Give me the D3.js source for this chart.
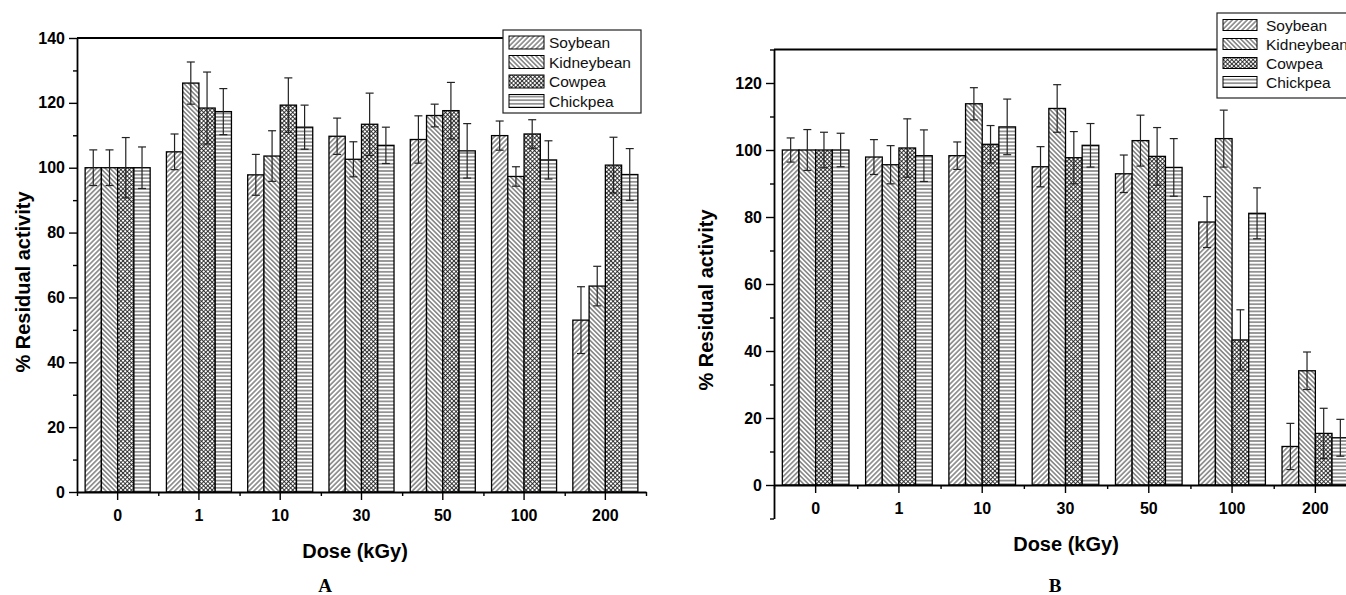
<!DOCTYPE html>
<html>
<head>
<meta charset="utf-8">
<script src="https://cdn.jsdelivr.net/npm/d3@7"></script>
<style>
  body { margin: 0; background: #fff; }
  svg { display: block; }
</style>
</head>
<body>
<svg width="1346" height="595"></svg>
<script>
// DATA
const doses = ["0", "1", "10", "30", "50", "100", "200"];
const seriesNames = ["Soybean", "Kidneybean", "Cowpea", "Chickpea"];

// panel A
const soybeanA = [100, 104.9, 97.8, 109.7, 108.7, 109.9, 53];
const soybeanAErr = [5.5, 5.5, 6.3, 5.6, 7.3, 4.5, 10.3];
const kidneybeanA = [100, 126.1, 103.6, 102.6, 116.1, 97.3, 63.5];
const kidneybeanAErr = [5.5, 6.5, 7.8, 5.4, 3.5, 3, 6.1];
const cowpeaA = [100, 118.4, 119.3, 113.4, 117.6, 110.4, 100.8];
const cowpeaAErr = [9.3, 11.1, 8.4, 9.6, 8.7, 4.4, 8.6];
const chickpeaA = [100, 117.3, 112.5, 106.9, 105.2, 102.4, 97.9];
const chickpeaAErr = [6.4, 7.1, 6.8, 5.6, 8.4, 5.9, 8];

// panel B
const soybeanB = [100, 97.9, 98.3, 95, 92.9, 78.5, 11.5];
const soybeanBErr = [3.6, 5.2, 4.1, 6, 5.6, 7.6, 6.9];
const kidneybeanB = [100, 95.6, 113.8, 112.4, 102.8, 103.4, 34.1];
const kidneybeanBErr = [6.1, 5.7, 4.8, 7.1, 7.6, 8.5, 5.6];
const cowpeaB = [100, 100.6, 101.7, 97.7, 98.1, 43.3, 15.4];
const cowpeaBErr = [5.3, 8.7, 5.6, 7.8, 8.6, 9, 7.5];
const chickpeaB = [100, 98.3, 106.9, 101.4, 94.8, 81.1, 14.1];
const chickpeaBErr = [5, 7.7, 8.3, 6.5, 8.6, 7.6, 5.5];

const yMajorA = [0, 20, 40, 60, 80, 100, 120, 140];
const yMinorA = [10, 30, 50, 70, 90, 110, 130];
const yMajorB = [0, 20, 40, 60, 80, 100, 120];
const yMinorB = [-10, 10, 30, 50, 70, 90, 110, 130];

const svg = d3.select("svg");
const sans = "'Liberation Sans', Arial, sans-serif";

// PATTERNS
const defs = svg.append("defs");
const patternIds = ["p-soy", "p-kid", "p-cow", "p-chk"];

function linePattern(id, size, angle, cross) {
  const p = defs.append("pattern")
    .attr("id", id)
    .attr("patternUnits", "userSpaceOnUse")
    .attr("width", size)
    .attr("height", size)
    .attr("patternTransform", `rotate(${angle})`);
  p.append("rect").attr("width", size).attr("height", size).attr("fill", "#fff");
  p.append("line")
    .attr("x1", size / 2).attr("x2", size / 2)
    .attr("y1", 0).attr("y2", size)
    .attr("stroke", "#1a1a1a").attr("stroke-width", 0.85);
  if (cross) {
    p.append("line")
      .attr("x1", 0).attr("x2", size)
      .attr("y1", size / 2).attr("y2", size / 2)
      .attr("stroke", "#1a1a1a").attr("stroke-width", 0.85);
  }
}
linePattern("p-soy", 3.5, 45, false);
linePattern("p-kid", 3.3, -45, false);
linePattern("p-cow", 3.0, 45, true);
linePattern("p-chk", 3.6, 90, false);

function drawPanel(cfg) {
  const g = svg.append("g");

  const x = d3.scaleBand()
    .domain(doses)
    .range([cfg.x0, cfg.x1])
    .paddingInner(0.2)
    .paddingOuter(0.1);
  const xs = d3.scaleBand()
    .domain(seriesNames)
    .range([0, x.bandwidth()]);
  const xl = d3.scaleLinear().domain([0, doses.length]).range([cfg.x0, cfg.x1]);
  const y = d3.scaleLinear().domain(cfg.yDomain).range([cfg.yBottom, cfg.yTop]);

  // BARS
  cfg.values.forEach((vals, si) => {
    const s = seriesNames[si];
    const errs = cfg.errors[si];
    const rows = doses.map((d, i) => ({ dose: d, v: vals[i], e: errs[i] }));

    g.selectAll(null)
      .data(rows)
      .enter()
      .append("rect")
      .attr("x", d => x(d.dose) + xs(s))
      .attr("y", d => y(d.v))
      .attr("width", xs.bandwidth())
      .attr("height", d => y(0) - y(d.v))
      .attr("fill", `url(#${patternIds[si]})`)
      .attr("stroke", "#000")
      .attr("stroke-width", 1.3);

    // ERROR BARS
    const eb = g.selectAll(null)
      .data(rows)
      .enter()
      .append("g")
      .attr("transform", d => `translate(${x(d.dose) + xs(s) + xs.bandwidth() / 2},0)`)
      .attr("stroke", "#222")
      .attr("stroke-width", 1.2);
    eb.append("line").attr("y1", d => y(d.v + d.e)).attr("y2", d => y(d.v - d.e));
    eb.append("line").attr("x1", -4).attr("x2", 4).attr("y1", d => y(d.v + d.e)).attr("y2", d => y(d.v + d.e));
    eb.append("line").attr("x1", -4).attr("x2", 4).attr("y1", d => y(d.v - d.e)).attr("y2", d => y(d.v - d.e));
  });

  // Y AXIS
  g.append("g")
    .attr("transform", `translate(${cfg.x0},0)`)
    .call(d3.axisLeft(y).tickValues(cfg.yMajor).tickSize(8).tickSizeOuter(0).tickPadding(4));
  g.append("g")
    .attr("transform", `translate(${cfg.x0},0)`)
    .call(d3.axisLeft(y).tickValues(cfg.yMinor).tickSize(4).tickFormat(""))
    .select(".domain").remove();

  // X AXIS
  g.append("g")
    .attr("transform", `translate(0,${y(0)})`)
    .call(d3.axisBottom(x).tickSize(8).tickSizeOuter(0).tickPadding(10));
  g.append("g")
    .attr("transform", `translate(0,${y(0)})`)
    .call(d3.axisBottom(xl).tickValues(d3.range(doses.length + 1)).tickSize(4).tickFormat(""))
    .select(".domain").remove();

  g.selectAll(".tick line").attr("stroke", "#000").attr("stroke-width", 1.4);
  g.selectAll(".domain").attr("stroke", "#000").attr("stroke-width", 1.8);
  g.selectAll(".tick text")
    .attr("font-family", sans)
    .attr("font-weight", "bold")
    .attr("font-size", "16px")
    .attr("fill", "#000");

  // top frame line
  g.append("line")
    .attr("x1", cfg.x0).attr("x2", cfg.legend.x)
    .attr("y1", y(cfg.yDomain[1])).attr("y2", y(cfg.yDomain[1]))
    .attr("stroke", "#000").attr("stroke-width", 1.8);

  // LEGEND
  const L = cfg.legend;
  const lg = g.append("g").attr("transform", `translate(${L.x},${L.y})`);
  lg.append("rect")
    .attr("width", L.w).attr("height", L.h)
    .attr("fill", "#fff").attr("stroke", "#222").attr("stroke-width", 1.2);
  seriesNames.forEach((s, i) => {
    const cy = L.first + i * L.step;
    lg.append("rect")
      .attr("x", 6).attr("y", cy - L.sh / 2)
      .attr("width", L.sw).attr("height", L.sh)
      .attr("fill", `url(#${patternIds[i]})`)
      .attr("stroke", "#000").attr("stroke-width", 1);
    lg.append("text")
      .attr("x", L.tx).attr("y", cy)
      .attr("dominant-baseline", "central")
      .attr("font-family", sans)
      .attr("font-size", "15.5px")
      .attr("fill", "#111")
      .text(s);
  });

  // TITLES
  g.append("text")
    .attr("transform", `translate(${cfg.yTitle[0]},${cfg.yTitle[1]}) rotate(-90)`)
    .attr("text-anchor", "middle")
    .attr("dominant-baseline", "central")
    .attr("font-family", sans)
    .attr("font-weight", "bold")
    .attr("font-size", "20px")
    .text("% Residual activity");
  g.append("text")
    .attr("x", cfg.xTitle[0]).attr("y", cfg.xTitle[1])
    .attr("text-anchor", "middle")
    .attr("dominant-baseline", "central")
    .attr("font-family", sans)
    .attr("font-weight", "bold")
    .attr("font-size", "20px")
    .text("Dose (kGy)");
  g.append("text")
    .attr("x", cfg.letter[0]).attr("y", cfg.letter[1])
    .attr("text-anchor", "middle")
    .attr("dominant-baseline", "central")
    .attr("font-family", "'Liberation Serif', 'Times New Roman', serif")
    .attr("font-weight", "bold")
    .attr("font-size", "19px")
    .text(cfg.name);
}

drawPanel({
  name: "A",
  x0: 77, x1: 646,
  yTop: 38, yBottom: 492,
  yDomain: [0, 140],
  yMajor: yMajorA, yMinor: yMinorA,
  values: [soybeanA, kidneybeanA, cowpeaA, chickpeaA],
  errors: [soybeanAErr, kidneybeanAErr, cowpeaAErr, chickpeaAErr],
  legend: { x: 503, y: 30, w: 138, h: 83, first: 12.5, step: 19.5, sw: 35, sh: 13, tx: 46 },
  yTitle: [23, 282],
  xTitle: [355, 551],
  letter: [325, 585]
});

drawPanel({
  name: "B",
  x0: 774, x1: 1357,
  yTop: 49.5, yBottom: 518.5,
  yDomain: [-10, 130],
  yMajor: yMajorB, yMinor: yMinorB,
  values: [soybeanB, kidneybeanB, cowpeaB, chickpeaB],
  errors: [soybeanBErr, kidneybeanBErr, cowpeaBErr, chickpeaBErr],
  legend: { x: 1217, y: 13, w: 160, h: 85, first: 12, step: 19, sw: 34, sh: 11, tx: 49 },
  yTitle: [706, 300],
  xTitle: [1066, 544],
  letter: [1055, 585]
});
</script>
</body>
</html>
